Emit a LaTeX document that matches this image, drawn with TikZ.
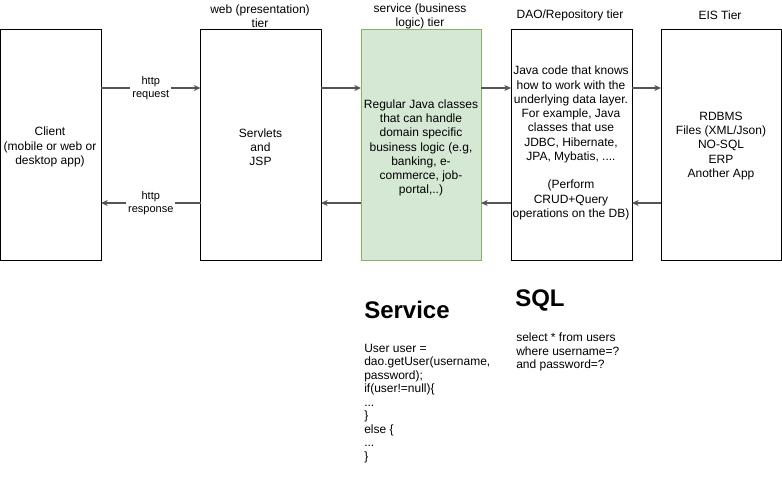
\documentclass[tikz,border=0pt]{standalone}
\usepackage{fontspec}
\setmainfont{Liberation Sans}
\usetikzlibrary{arrows.meta}
\definecolor{edgegray}{HTML}{555555}
\definecolor{svcfill}{HTML}{D5E8D4}
\definecolor{svcline}{HTML}{82B366}
\begin{document}
\begin{tikzpicture}[x=0.75pt,y=-0.75pt,
  tierbox/.style={draw=black,line width=0.75pt,inner sep=0pt},
  boxtext/.style={font=\fontsize{9}{10.7}\selectfont,align=center},
  toplabel/.style={font=\fontsize{9}{10.5}\selectfont,align=center},
  conn/.style={draw=edgegray,line width=1pt,-{Stealth[length=5pt,width=4.5pt,inset=1.5pt]}},
  conlabel/.style={font=\fontsize{8.25}{10}\selectfont,align=center,fill=white,inner sep=1.5pt},
  codetext/.style={font=\fontsize{9}{10.1}\selectfont,align=left,anchor=north west,inner sep=0pt},
  bigtitle/.style={font=\fontsize{18}{20}\selectfont\bfseries,anchor=west,inner sep=0pt}]
\useasboundingbox (0,0) rectangle (782,481);
% boxes
\draw[tierbox] (0.5,30) rectangle (101,260);
\node[boxtext] (client) at (50,147) {Client\\(mobile or web or\\desktop app)};
\draw[tierbox] (200.5,30) rectangle (321,260);
\node[boxtext] (web) at (260.5,147) {Servlets\\and\\JSP};
\draw[line width=0.75pt,draw=svcline,fill=svcfill] (361,30) rectangle (481,260);
\node[boxtext] (svc) at (421,148) {Regular Java classes\\that can handle\\domain specific\\business logic (e.g,\\banking, e-\\commerce, job-\\portal,..)};
\draw[tierbox] (511,30) rectangle (632,260);
\node[boxtext] (dao) at (571,143) {Java code that knows\\how to work with the\\underlying data layer.\\For example, Java\\classes that use\\JDBC, Hibernate,\\JPA, Mybatis, ....\\[10.7pt](Perform\\CRUD+Query\\operations on the DB)};
\draw[tierbox] (661,30) rectangle (781.5,260);
\node[boxtext] (eis) at (721,146) {RDBMS\\Files (XML/Json)\\NO-SQL\\ERP\\Another App};
% connector end points
\coordinate (cR1) at (101,88); \coordinate (wL1) at (200.5,88);
\coordinate (wR1) at (321,88); \coordinate (sL1) at (361,88);
\coordinate (sR1) at (481,88); \coordinate (dL1) at (511,88);
\coordinate (dR1) at (632,88); \coordinate (eL1) at (661,88);
\coordinate (cR2) at (101,203); \coordinate (wL2) at (200.5,203);
\coordinate (wR2) at (321,203); \coordinate (sL2) at (361,203);
\coordinate (sR2) at (481,203); \coordinate (dL2) at (511,203);
\coordinate (dR2) at (632,203); \coordinate (eL2) at (661,203);
\draw[conn] (cR1) -- node[conlabel] {http\\request} (wL1);
\draw[conn] (wR1) -- (sL1);
\draw[conn] (sR1) -- (dL1);
\draw[conn] (dR1) -- (eL1);
\draw[conn] (wL2) -- node[conlabel] {http\\response} (cR2);
\draw[conn] (sL2) -- (wR2);
\draw[conn] (dL2) -- (sR2);
\draw[conn] (eL2) -- (dR2);
% tier titles
\node[toplabel] (t1) at (260,16) {web (presentation)\\tier};
\node[toplabel] (t2) at (420,16) {service (business\\logic) tier};
\node[toplabel] (t3) at (570,15) {DAO/Repository tier};
\node[toplabel] (t4) at (720,15) {EIS Tier};
% lower texts
\node[bigtitle] (svct) at (364,310) {Service};
\node[bigtitle] (sqlt) at (515,300) {SQL};
\node[codetext] (code) at (364,344) {User user =\\dao.getUser(username,\\password);\\if(user!=null)\{\\...\\\}\\else \{\\...\\\}};
\node[codetext] (sql) at (516,333) {select * from users\\where username=?\\and password=?};
\end{tikzpicture}
\end{document}
